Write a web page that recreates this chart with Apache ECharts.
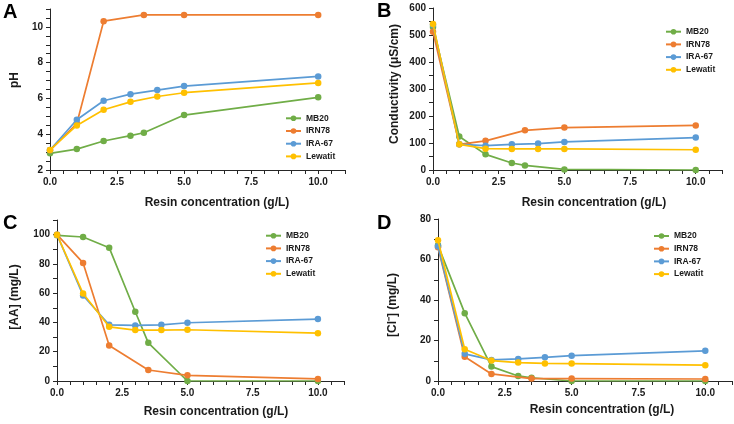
<!DOCTYPE html>
<html><head><meta charset="utf-8">
<script src="https://cdn.jsdelivr.net/npm/echarts@6/dist/echarts.min.js"></script>
<style>html,body{margin:0;padding:0;background:#fff}#c{width:734px;height:424px}</style>
</head><body><div id="c"></div>
<script>
// ---- data ----
const seriesNames = ['MB20', 'IRN78', 'IRA-67', 'Lewatit'];
const xMB20 = [0, 1, 2, 3, 3.5, 5, 10];
const xIRN78 = [0, 1, 2, 3.5, 5, 10];
const xIRA67 = [0, 1, 2, 3, 4, 5, 10];
const xLewatit = [0, 1, 2, 3, 4, 5, 10];

const pH_MB20 = [2.93, 3.17, 3.62, 3.92, 4.08, 5.07, 6.06];
const pH_IRN78 = [3.1, 4.6, 10.32, 10.67, 10.67, 10.67];
const pH_IRA67 = [3.12, 4.81, 5.87, 6.24, 6.47, 6.69, 7.23];
const pH_Lewatit = [3.12, 4.49, 5.37, 5.81, 6.11, 6.32, 6.87];

const cond_MB20 = [530, 124, 58, 26, 17, 2, 0];
const cond_IRN78 = [512, 95, 108, 147, 157, 165];
const cond_IRA67 = [538, 95, 90, 95, 98, 104, 120];
const cond_Lewatit = [541, 95, 79, 78, 78, 78, 75];

const aa_MB20 = [99.5, 98.4, 91.1, 47.3, 26.1, 0, 0];
const aa_IRN78 = [100, 80.7, 24.3, 7.5, 3.9, 1.4];
const aa_IRA67 = [100, 58.4, 38.4, 38, 38.4, 39.8, 42.3];
const aa_Lewatit = [100, 59.8, 37, 34.8, 34.8, 35, 32.7];

const cl_MB20 = [67, 33.5, 7.1, 2.5, 1.6, 0, 0];
const cl_IRN78 = [66, 12, 3.5, 1.2, 1.2, 1.0];
const cl_IRA67 = [66.5, 13.4, 10.4, 10.9, 11.7, 12.5, 14.9];
const cl_Lewatit = [69.5, 15.7, 10.1, 9.1, 8.7, 8.6, 7.8];

const panelLetters = ['A', 'B', 'C', 'D'];
const yTitles = ['pH', 'Conductivity (μS/cm)', '[AA] (mg/L)', '[Cl⁻] (mg/L)'];
const xTitle = 'Resin concentration (g/L)';

// ---- styling / layout ----
const colors = ['#70AD47', '#ED7D31', '#5B9BD5', '#FFC000'];
const FONT = 'Liberation Sans, Arial, sans-serif';
const TXT = '#1a1a1a';
const xs = [xMB20, xIRN78, xIRA67, xLewatit];
const panels = [
  [pH_MB20, pH_IRN78, pH_IRA67, pH_Lewatit],
  [cond_MB20, cond_IRN78, cond_IRA67, cond_Lewatit],
  [aa_MB20, aa_IRN78, aa_IRA67, aa_Lewatit],
  [cl_MB20, cl_IRN78, cl_IRA67, cl_Lewatit]
];
const grids = [
  {left: 50, top: 9, width: 295, height: 161},
  {left: 433, top: 8, width: 289, height: 162},
  {left: 57, top: 220, width: 287, height: 161},
  {left: 438, top: 219, width: 294, height: 162}
];
const yAx = [
  {min: 2, max: 11, interval: 2, minor: 4, showMax: false},
  {min: 0, max: 600, interval: 100, minor: 2, showMax: true},
  {min: 0, max: 110, interval: 20, minor: 2, showMax: false},
  {min: 0, max: 80, interval: 20, minor: 2, showMax: true}
];
const legendPos = [
  {left: 285, top: 113.3},
  {left: 665, top: 26.7},
  {left: 265, top: 230.7},
  {left: 653, top: 231}
];
const letterPos = [[3, 12.5], [377, 11], [3, 223.5], [377, 223.5]];
const yTitlePos = [[15, 80], [395, 84], [15, 297], [393, 305]];
const xTitlePos = [[217, 203], [594, 203], [216, 411.5], [602, 410]];

const axisLineStyle = {color: '#262626', width: 1};
const option = {
  animation: false,
  backgroundColor: '#fff',
  grid: grids.map(g => Object.assign({containLabel: false}, g)),
  xAxis: grids.map((g, i) => ({
    type: 'value', gridIndex: i, min: 0, max: 11, interval: 2.5,
    axisLine: {show: true, onZero: false, lineStyle: axisLineStyle},
    axisTick: {show: true, length: 4, lineStyle: axisLineStyle},
    minorTick: {show: true, splitNumber: 5, length: 4, lineStyle: axisLineStyle},
    splitLine: {show: false},
    axisLabel: {showMaxLabel: false, margin: 7, fontFamily: FONT, fontWeight: 'bold', fontSize: 10, color: TXT,
      formatter: v => v.toFixed(1)}
  })),
  yAxis: yAx.map((a, i) => ({
    type: 'value', gridIndex: i, min: a.min, max: a.max, interval: a.interval,
    axisLine: {show: true, onZero: false, lineStyle: axisLineStyle},
    axisTick: {show: true, length: 4, lineStyle: axisLineStyle},
    minorTick: {show: true, splitNumber: a.minor, length: 4, lineStyle: axisLineStyle},
    splitLine: {show: false},
    axisLabel: {showMaxLabel: a.showMax, margin: 7, fontFamily: FONT, fontWeight: 'bold', fontSize: 10, color: TXT}
  })),
  legend: legendPos.map(p => ({
    data: seriesNames, orient: 'vertical', left: p.left, top: p.top, padding: 0,
    itemWidth: 15, itemHeight: 7, itemGap: 2.7, selectedMode: false,
    textStyle: {fontFamily: FONT, fontWeight: 'bold', fontSize: 8.5, color: TXT, lineHeight: 10}
  })),
  series: [],
  graphic: []
};
panels.forEach((vals, p) => {
  vals.forEach((arr, s) => {
    option.series.push({
      type: 'line', name: seriesNames[s], xAxisIndex: p, yAxisIndex: p,
      data: arr.map((v, k) => [xs[s][k], v]),
      symbol: 'circle', symbolSize: 6.5, showSymbol: true,
      itemStyle: {color: colors[s]},
      lineStyle: {color: colors[s], width: 1.7},
      z: 2 + s
    });
  });
  option.graphic.push({
    type: 'text', left: letterPos[p][0], top: letterPos[p][1] - 10,
    style: {text: panelLetters[p], font: 'bold 20px ' + FONT, fill: '#000'}
  });
  option.graphic.push({
    type: 'text', x: yTitlePos[p][0], y: yTitlePos[p][1], rotation: Math.PI / 2,
    style: {text: yTitles[p], font: 'bold 12px ' + FONT, fill: TXT, align: 'center', verticalAlign: 'middle'}
  });
  option.graphic.push({
    type: 'text', x: xTitlePos[p][0], y: xTitlePos[p][1],
    style: {text: xTitle, font: 'bold 12px ' + FONT, fill: TXT, align: 'center', verticalAlign: 'middle'}
  });
});
const chart = echarts.init(document.getElementById('c'), null, {renderer: 'canvas'});
chart.setOption(option);
</script>
</body></html>
